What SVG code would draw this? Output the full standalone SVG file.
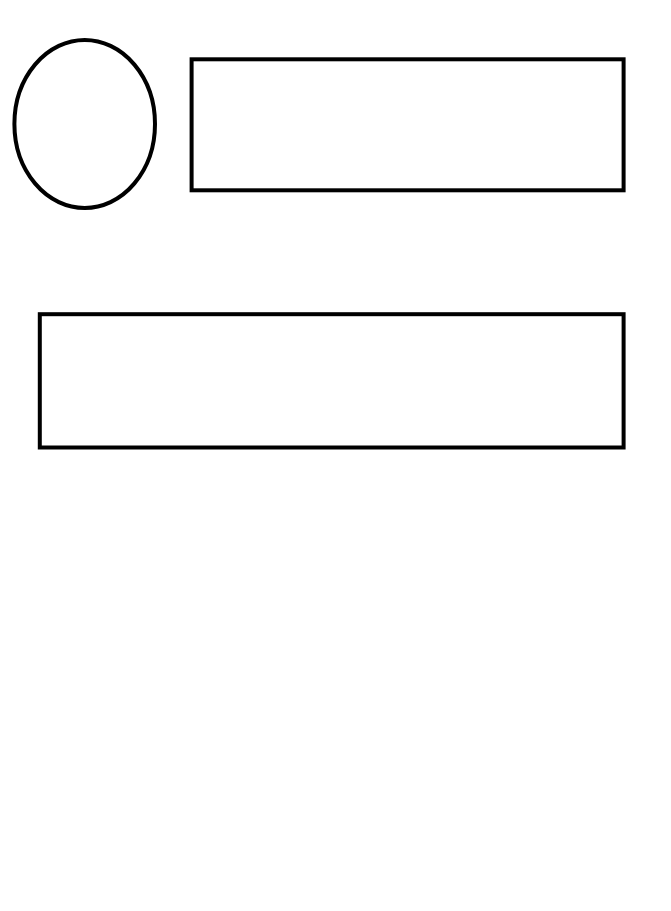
<svg xmlns="http://www.w3.org/2000/svg" width="671" height="911" viewBox="0 0 671 911">
<style>
.shape{fill:#ffffff;stroke:#000000;stroke-width:4}
</style>
<rect x="0" y="0" width="671" height="911" fill="#ffffff"/>
<g id="node-ellipse">
<ellipse class="shape" cx="84.7" cy="124" rx="70.3" ry="84"/>
</g>
<g id="node-rect-top">
<rect class="shape" x="191.6" y="59.3" width="432" height="131"/>
</g>
<g id="node-rect-bottom">
<rect class="shape" x="39.8" y="314.2" width="583.8" height="133.3"/>
</g>
<g id="connectors"></g>
</svg>
